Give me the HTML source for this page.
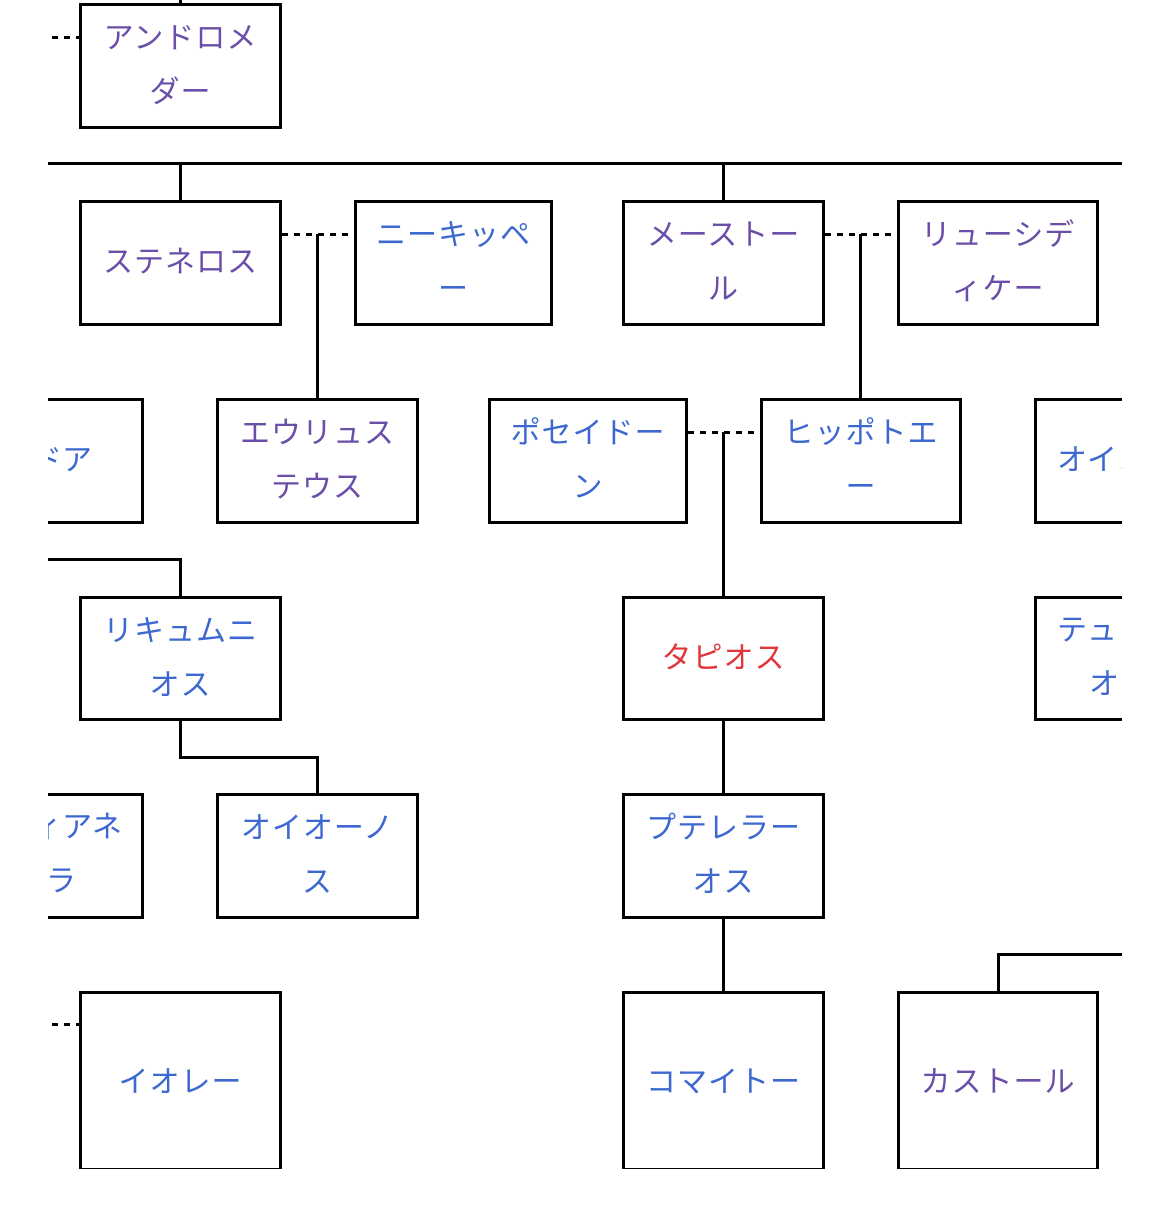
<!DOCTYPE html>
<html><head><meta charset="utf-8"><style>
body{margin:0;width:1170px;height:1213px;background:#fff;overflow:hidden;position:relative;font-family:"Liberation Sans","Noto Sans CJK JP",sans-serif}
#c{position:absolute;left:48px;top:0;width:1074px;height:1213px;overflow:hidden}
#in{position:absolute;left:-48px;top:0;width:1170px;height:1213px}
.b{position:absolute;border:3px solid #000;box-sizing:border-box;background:#fff;display:flex;align-items:center;justify-content:center;text-align:center;font-size:30px;line-height:54px;letter-spacing:1px}
.p{color:#6b4ea8}.u{color:#3d68d0}.r{color:#e0353a}
.h{position:absolute;height:3px;background:#000}
.v{position:absolute;width:3px;background:#000}
.d{position:absolute;height:3px;background:repeating-linear-gradient(90deg,#000 0 6px,transparent 6px 12px)}
.t{position:absolute;font-size:30px;line-height:54px;white-space:nowrap}
.z{border-bottom-width:1.5px}
</style></head><body>
<div id="c"><div id="in">
<div class="v" style="left:179px;top:0;height:4px"></div>
<div class="d" style="left:40px;top:36px;width:40px"></div>
<div class="h" style="left:40px;top:162px;width:1100px"></div>
<div class="v" style="left:179px;top:163px;height:38px"></div>
<div class="v" style="left:722px;top:163px;height:38px"></div>
<div class="d" style="left:282px;top:233px;width:72px"></div>
<div class="v" style="left:316px;top:234px;height:165px"></div>
<div class="d" style="left:825px;top:233px;width:72px"></div>
<div class="v" style="left:859px;top:234px;height:165px"></div>
<div class="d" style="left:688px;top:431px;width:72px"></div>
<div class="v" style="left:722px;top:432px;height:165px"></div>
<div class="h" style="left:40px;top:558px;width:141px"></div>
<div class="v" style="left:179px;top:558px;height:40px"></div>
<div class="v" style="left:179px;top:719px;height:39px"></div>
<div class="h" style="left:179px;top:756px;width:140px"></div>
<div class="v" style="left:316px;top:756px;height:38px"></div>
<div class="v" style="left:722px;top:719px;height:75px"></div>
<div class="v" style="left:722px;top:917px;height:75px"></div>
<div class="d" style="left:40px;top:1023px;width:40px"></div>
<div class="v" style="left:997px;top:954px;height:38px"></div>
<div class="h" style="left:997px;top:953px;width:140px"></div>

<div class="b p" style="left:79px;top:3px;width:203px;height:126px">アンドロメ<br>ダー</div>
<div class="b p" style="left:79px;top:200px;width:203px;height:126px">ステネロス</div>
<div class="b u" style="left:354px;top:200px;width:199px;height:126px">ニーキッペ<br>ー</div>
<div class="b p" style="left:622px;top:200px;width:203px;height:126px">メーストー<br>ル</div>
<div class="b p" style="left:897px;top:200px;width:202px;height:126px">リューシデ<br>ィケー</div>

<div class="b u" style="left:-59px;top:398px;width:203px;height:126px"></div>
<div class="t u" style="left:32px;top:434px">ドア</div>
<div class="b p" style="left:216px;top:398px;width:203px;height:126px">エウリュス<br>テウス</div>
<div class="b u" style="left:488px;top:398px;width:200px;height:126px">ポセイドー<br>ン</div>
<div class="b u" style="left:760px;top:398px;width:202px;height:126px">ヒッポトエ<br>ー</div>
<div class="b u" style="left:1034px;top:398px;width:203px;height:126px"></div>
<div class="t u" style="left:1057px;top:434px">オイノ</div>

<div class="b u" style="left:79px;top:596px;width:203px;height:125px">リキュムニ<br>オス</div>
<div class="b r" style="left:622px;top:596px;width:203px;height:125px">タピオス</div>
<div class="b u" style="left:1034px;top:596px;width:203px;height:125px"></div>
<div class="t u" style="left:1057px;top:604px">テュ</div>
<div class="t u" style="left:1089px;top:658px">オス</div>

<div class="b u" style="left:-59px;top:793px;width:203px;height:126px"></div>
<div class="t u" style="left:32px;top:801px">ィアネ</div>
<div class="t u" style="left:16px;top:855px">イラ</div>
<div class="b u" style="left:216px;top:793px;width:203px;height:126px">オイオーノ<br>ス</div>
<div class="b u" style="left:622px;top:793px;width:203px;height:126px">プテレラー<br>オス</div>

<div class="b u z" style="left:79px;top:991px;width:203px;height:178px;padding-top:4px">イオレー</div>
<div class="b u z" style="left:622px;top:991px;width:203px;height:178px;padding-top:4px">コマイトー</div>
<div class="b p z" style="left:897px;top:991px;width:202px;height:178px;padding-top:4px">カストール</div>
</div></div>
</body></html>
